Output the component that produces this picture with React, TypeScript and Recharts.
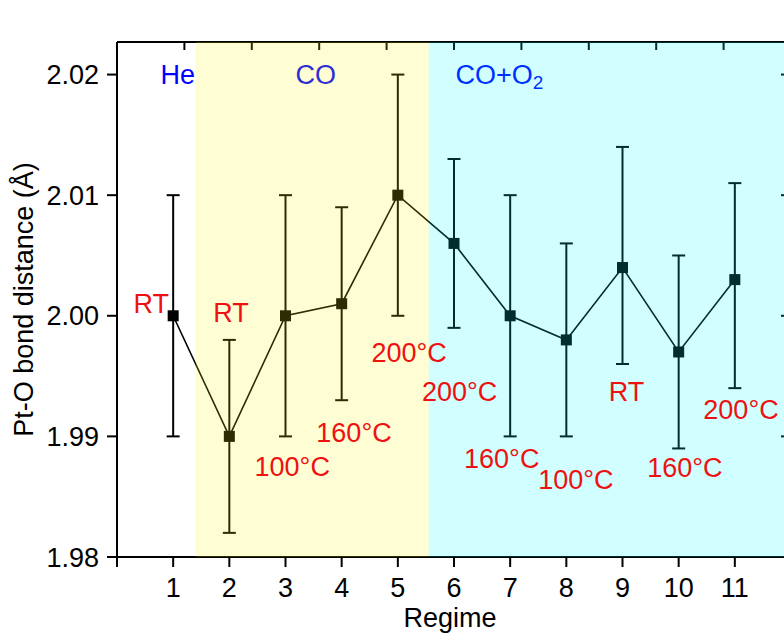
import { ComposedChart, Line, ErrorBar, XAxis, YAxis, ReferenceArea, ReferenceDot } from 'recharts'

const regimes = [1, 2, 3, 4, 5, 6, 7, 8, 9, 10, 11]
const bondDistance = [2.0, 1.99, 2.0, 2.001, 2.01, 2.006, 2.0, 1.998, 2.004, 1.997, 2.003]
const errLow = [0.01, 0.008, 0.01, 0.008, 0.01, 0.007, 0.01, 0.008, 0.008, 0.008, 0.009]
const errHigh = [0.01, 0.008, 0.01, 0.008, 0.01, 0.007, 0.01, 0.008, 0.01, 0.008, 0.008]

// temperature annotations, placed in data units
const tempLabels = ['RT', 'RT', '100°C', '160°C', '200°C', '200°C', '160°C', '100°C', 'RT', '160°C', '200°C']
const tempLabelX = [0.61, 2.03, 3.12, 4.22, 5.2, 6.1, 6.85, 8.17, 9.07, 10.11, 11.11]
const tempLabelY = [2.001, 2.0003, 1.9875, 1.9903, 1.997, 1.9937, 1.9882, 1.9864, 1.9937, 1.9874, 1.9922]

// gas regimes
const gasText = ['He', 'CO', 'CO+O']
const gasSub = ['', '', '2']
const gasLabelX = [1.08, 3.54, 6.81]
const gasLabelY = 2.02
const gasStart = [0, 1.4, 5.55]
const gasEnd = [1.4, 5.55, 12]
const gasTint = ['none', '#FFF40B', '#00FFFF']

const xTicks = [0, 1, 2, 3, 4, 5, 6, 7, 8, 9, 10, 11, 12]
const yTicks = [1.98, 1.99, 2.0, 2.01, 2.02]

const data = regimes.map((r, i) => ({
  regime: r,
  dist: bondDistance[i],
  err: [errLow[i], errHigh[i]],
}))

const FONT = '"Liberation Sans", Arial, sans-serif'
const axisStroke = { stroke: '#000', strokeWidth: 2 }

function AnnotText(props: any) {
  const { viewBox, text, sub, color } = props
  const cx = viewBox.x + viewBox.width / 2
  const cy = viewBox.y + viewBox.height / 2
  return (
    <text x={cx} y={cy} dy="0.355em" textAnchor="middle" fill={color} fontSize={27} fontFamily={FONT}>
      {text}
      {sub ? (
        <tspan fontSize={19} dy={5}>
          {sub}
        </tspan>
      ) : null}
    </text>
  )
}

function YTitle(props: any) {
  const { viewBox } = props
  const x = viewBox.x + 33
  const y = viewBox.y + viewBox.height / 2
  return (
    <text x={x} y={y} transform={`rotate(-90, ${x}, ${y})`} textAnchor="middle" fill="#000" fontSize={27} fontFamily={FONT}>
      Pt-O bond distance (Å)
    </text>
  )
}

function SquareDot(props: any) {
  const { cx, cy, index } = props
  return <rect key={index} x={cx - 5.5} y={cy - 5.5} width={11} height={11} fill="#000" />
}

export default function App() {
  return (
    <div style={{ position: 'absolute', left: 0, top: 0, width: 784, height: 635, overflow: 'hidden', background: '#fff', fontFamily: FONT }}>
      <ComposedChart width={791} height={635} data={data} margin={{ top: 42, right: 0, left: 0, bottom: 0 }}>
        <XAxis
          dataKey="regime"
          type="number"
          domain={[0, 12]}
          ticks={xTicks}
          interval={0}
          height={78}
          axisLine={axisStroke}
          tickLine={axisStroke}
          tickSize={10}
          tickMargin={11}
          tick={{ fill: '#000', fontSize: 27, fontFamily: FONT }}
          tickFormatter={(v: number) => (v >= 1 && v <= 11 ? String(v) : '')}
          label={{ value: 'Regime', position: 'insideBottom', offset: 8, dx: -4, fill: '#000', fontSize: 27, fontFamily: FONT }}
        />
        <XAxis
          xAxisId="top"
          type="number"
          orientation="top"
          mirror
          height={30}
          domain={[0, 12]}
          ticks={xTicks}
          interval={0}
          axisLine={axisStroke}
          tickLine={axisStroke}
          tickSize={8}
          tickFormatter={() => ''}
        />
        <YAxis
          type="number"
          domain={[1.98, 2.0227]}
          allowDataOverflow
          ticks={yTicks}
          interval={0}
          width={117}
          axisLine={axisStroke}
          tickLine={axisStroke}
          tickSize={10}
          tickMargin={8}
          tick={{ fill: '#000', fontSize: 27, fontFamily: FONT }}
          tickFormatter={(v: number) => v.toFixed(2)}
          label={(p: any) => <YTitle {...p} />}
        />
        <YAxis
          yAxisId="right"
          type="number"
          orientation="right"
          mirror
          domain={[1.98, 2.0227]}
          allowDataOverflow
          ticks={yTicks}
          interval={0}
          axisLine={axisStroke}
          tickLine={axisStroke}
          tickSize={10}
          tickFormatter={() => ''}
        />
        <Line
          dataKey="dist"
          stroke="#000"
          strokeWidth={1.6}
          dot={(p: any) => <SquareDot {...p} />}
          activeDot={false}
          isAnimationActive={false}
        >
          <ErrorBar dataKey="err" direction="y" width={6.5} strokeWidth={2} stroke="#000" isAnimationActive={false} />
        </Line>
        {gasText.map((t, i) => (
          <ReferenceDot
            key={'gas' + i}
            x={gasLabelX[i]}
            y={gasLabelY}
            r={0}
            fill="none"
            stroke="none"
            label={(p: any) => <AnnotText {...p} text={t} sub={gasSub[i]} color="#0000FF" />}
          />
        ))}
        {gasStart.map((s, i) =>
          gasTint[i] === 'none' ? null : (
            <ReferenceArea
              key={'tint' + i}
              x1={s}
              x2={gasEnd[i]}
              fill={gasTint[i]}
              fillOpacity={0.18}
              stroke="none"
              ifOverflow="visible"
              {...({ zIndex: 1500 } as any)}
            />
          ),
        )}
        {tempLabels.map((t, i) => (
          <ReferenceDot
            key={'temp' + i}
            x={tempLabelX[i]}
            y={tempLabelY[i]}
            r={0}
            fill="none"
            stroke="none"
            label={(p: any) => <AnnotText {...p} text={t} color="#EE1111" />}
            {...({ zIndex: 2500 } as any)}
          />
        ))}
      </ComposedChart>
    </div>
  )
}
